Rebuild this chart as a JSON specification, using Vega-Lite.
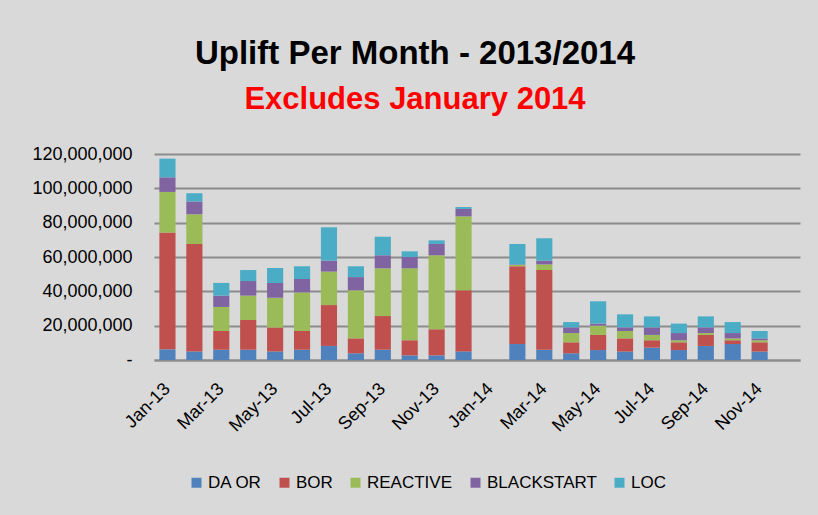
{
  "$schema": "https://vega.github.io/schema/vega-lite/v6.json",
  "width": 646,
  "height": 206,
  "autosize": {"type": "none"},
  "padding": {"left": 154, "top": 154, "right": 18, "bottom": 155},
  "background": "#D9D9D9",
  "config": {"view": {"stroke": null}, "font": "Liberation Sans"},
  "title": {
    "text": "Uplift Per Month - 2013/2014",
    "subtitle": "Excludes January 2014",
    "font": "Liberation Sans",
    "fontSize": 33,
    "fontWeight": "bold",
    "color": "#000000",
    "subtitleFont": "Liberation Sans",
    "subtitleFontSize": 31,
    "subtitleFontWeight": "bold",
    "subtitleColor": "#FF0000",
    "anchor": "middle",
    "frame": "group",
    "dx": -62,
    "offset": 30,
    "subtitlePadding": 14
  },
  "data": {
    "values": [
      {"month": "Jan-13", "DA OR": 6200000, "BOR": 68000000, "REACTIVE": 23700000, "BLACKSTART": 8500000, "LOC": 10900000},
      {"month": "Feb-13", "DA OR": 5000000, "BOR": 62600000, "REACTIVE": 17300000, "BLACKSTART": 7500000, "LOC": 4700000},
      {"month": "Mar-13", "DA OR": 6000000, "BOR": 10900000, "REACTIVE": 14000000, "BLACKSTART": 6600000, "LOC": 7400000},
      {"month": "Apr-13", "DA OR": 6000000, "BOR": 17300000, "REACTIVE": 14200000, "BLACKSTART": 8500000, "LOC": 6400000},
      {"month": "May-13", "DA OR": 5000000, "BOR": 14000000, "REACTIVE": 17300000, "BLACKSTART": 8600000, "LOC": 8700000},
      {"month": "Jun-13", "DA OR": 6000000, "BOR": 10900000, "REACTIVE": 22500000, "BLACKSTART": 7800000, "LOC": 7400000},
      {"month": "Jul-13", "DA OR": 8200000, "BOR": 23800000, "REACTIVE": 19500000, "BLACKSTART": 6400000, "LOC": 19400000},
      {"month": "Aug-13", "DA OR": 3900000, "BOR": 8700000, "REACTIVE": 28000000, "BLACKSTART": 7700000, "LOC": 6300000},
      {"month": "Sep-13", "DA OR": 6000000, "BOR": 19600000, "REACTIVE": 27800000, "BLACKSTART": 7600000, "LOC": 10800000},
      {"month": "Oct-13", "DA OR": 2700000, "BOR": 8800000, "REACTIVE": 41900000, "BLACKSTART": 6600000, "LOC": 3300000},
      {"month": "Nov-13", "DA OR": 2700000, "BOR": 15200000, "REACTIVE": 43100000, "BLACKSTART": 6600000, "LOC": 2100000},
      {"month": "Dec-13", "DA OR": 5000000, "BOR": 35600000, "REACTIVE": 43100000, "BLACKSTART": 4300000, "LOC": 1100000},
      {"month": "Feb-14", "DA OR": 9300000, "BOR": 45300000, "REACTIVE": 800000, "BLACKSTART": 300000, "LOC": 11900000},
      {"month": "Mar-14", "DA OR": 6000000, "BOR": 46400000, "REACTIVE": 3300000, "BLACKSTART": 2200000, "LOC": 13000000},
      {"month": "Apr-14", "DA OR": 3900000, "BOR": 6400000, "REACTIVE": 5400000, "BLACKSTART": 3300000, "LOC": 3100000},
      {"month": "May-14", "DA OR": 5800000, "BOR": 8800000, "REACTIVE": 5400000, "BLACKSTART": 1200000, "LOC": 13000000},
      {"month": "Jun-14", "DA OR": 4900000, "BOR": 7700000, "REACTIVE": 4300000, "BLACKSTART": 2100000, "LOC": 7600000},
      {"month": "Jul-14", "DA OR": 7200000, "BOR": 4300000, "REACTIVE": 3100000, "BLACKSTART": 4400000, "LOC": 6400000},
      {"month": "Aug-14", "DA OR": 5800000, "BOR": 4500000, "REACTIVE": 1200000, "BLACKSTART": 4200000, "LOC": 5500000},
      {"month": "Sep-14", "DA OR": 8200000, "BOR": 6400000, "REACTIVE": 1100000, "BLACKSTART": 3300000, "LOC": 6400000},
      {"month": "Oct-14", "DA OR": 9300000, "BOR": 2200000, "REACTIVE": 1100000, "BLACKSTART": 3100000, "LOC": 6400000},
      {"month": "Nov-14", "DA OR": 4900000, "BOR": 5400000, "REACTIVE": 1200000, "BLACKSTART": 1100000, "LOC": 4300000}
    ]
  },
  "transform": [
    {"fold": ["DA OR", "BOR", "REACTIVE", "BLACKSTART", "LOC"], "as": ["series", "value"]},
    {"calculate": "indexof(['DA OR', 'BOR', 'REACTIVE', 'BLACKSTART', 'LOC'], datum.series)", "as": "stackOrder"}
  ],
  "mark": {"type": "bar"},
  "encoding": {
    "x": {
      "field": "month",
      "type": "ordinal",
      "sort": null,
      "scale": {
        "domain": ["Jan-13", "Feb-13", "Mar-13", "Apr-13", "May-13", "Jun-13", "Jul-13", "Aug-13", "Sep-13", "Oct-13", "Nov-13", "Dec-13", "Jan-14", "Feb-14", "Mar-14", "Apr-14", "May-14", "Jun-14", "Jul-14", "Aug-14", "Sep-14", "Oct-14", "Nov-14", "Dec-14"],
        "paddingInner": 0.4,
        "paddingOuter": 0.2
      },
      "axis": {
        "title": null,
        "values": ["Jan-13", "Mar-13", "May-13", "Jul-13", "Sep-13", "Nov-13", "Jan-14", "Mar-14", "May-14", "Jul-14", "Sep-14", "Nov-14"],
        "labelAngle": -45,
        "labelAlign": "right",
        "labelBaseline": "middle",
        "labelFontSize": 18,
        "labelColor": "#000000",
        "labelPadding": 26,
        "ticks": false,
        "domainColor": "#8C8C8C",
        "domainWidth": 2,
        "grid": false
      }
    },
    "y": {
      "field": "value",
      "type": "quantitative",
      "stack": "zero",
      "scale": {"domain": [0, 120000000]},
      "axis": {
        "title": null,
        "values": [0, 20000000, 40000000, 60000000, 80000000, 100000000, 120000000],
        "format": ",.0f",
        "labelExpr": "datum.value == 0 ? '-\u00a0\u00a0\u00a0\u00a0' : datum.label",
        "labelFontSize": 18,
        "labelColor": "#000000",
        "labelPadding": 22,
        "domain": false,
        "ticks": false,
        "gridColor": "#8C8C8C",
        "gridWidth": 2
      }
    },
    "color": {
      "field": "series",
      "type": "nominal",
      "sort": ["DA OR", "BOR", "REACTIVE", "BLACKSTART", "LOC"],
      "scale": {
        "domain": ["DA OR", "BOR", "REACTIVE", "BLACKSTART", "LOC"],
        "range": ["#4F81BD", "#C0504D", "#9BBB59", "#8064A2", "#4BACC6"]
      },
      "legend": {
        "orient": "none",
        "direction": "horizontal",
        "legendX": 34,
        "legendY": 320,
        "title": null,
        "symbolType": "square",
        "symbolSize": 100,
        "symbolStrokeWidth": 0,
        "labelFontSize": 17,
        "labelColor": "#000000",
        "labelOffset": 3,
        "columnPadding": 14
      }
    },
    "order": {"field": "stackOrder", "type": "quantitative"}
  }
}
